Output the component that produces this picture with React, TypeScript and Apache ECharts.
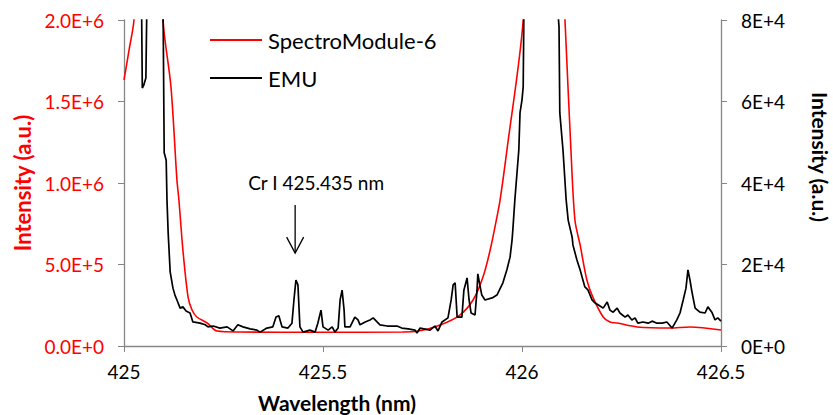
import React, { useEffect, useRef } from "react";
import * as echarts from "echarts";

// SpectroModule-6 (left axis)
const spectroWavelengths = [
  425.0, 425.013, 425.025, 425.045, 425.065, 425.085, 425.098, 425.118, 425.133, 425.138,
  425.148, 425.161, 425.171, 425.183, 425.209, 425.234, 425.29, 425.5, 425.7, 425.736,
  425.794, 425.844, 425.877, 425.902, 425.92, 425.937, 425.945, 425.962, 426.003, 426.03,
  426.055, 426.08, 426.108, 426.123, 426.133, 426.146, 426.163, 426.178, 426.204, 426.221,
  426.239, 426.289, 426.372, 426.422, 426.5,
];
const spectroValues = [
  1632000, 1820000, 2000000, 3000000, 4000000, 3000000, 2000000, 1590000, 1018000, 896000,
  589000, 300000, 221000, 178000, 141000, 92000, 86000, 84000, 86000, 90000,
  129000, 190000, 282000, 423000, 589000, 791000, 896000, 1200000, 2000000, 3500000,
  4500000, 3500000, 2000000, 1200000, 773000, 620000, 405000, 300000, 178000, 147000,
  141000, 117000, 110000, 117000, 98000,
];

// EMU (right axis)
const emuWavelengths = [
  425.0, 425.035, 425.044, 425.046, 425.05, 425.055, 425.058, 425.075, 425.098, 425.101,
  425.106, 425.108, 425.111, 425.116, 425.123, 425.128, 425.133, 425.141, 425.148, 425.156,
  425.166, 425.173, 425.191, 425.204, 425.211, 425.224, 425.241, 425.259, 425.274, 425.286,
  425.299, 425.317, 425.334, 425.342, 425.359, 425.374, 425.382, 425.389, 425.397, 425.412,
  425.422, 425.427, 425.432, 425.437, 425.442, 425.45, 425.467, 425.48, 425.487, 425.495,
  425.5, 425.513, 425.523, 425.53, 425.538, 425.543, 425.548, 425.553, 425.555, 425.568,
  425.58, 425.588, 425.593, 425.606, 425.618, 425.626, 425.631, 425.643, 425.661, 425.686,
  425.698, 425.714, 425.731, 425.736, 425.744, 425.769, 425.781, 425.789, 425.799, 425.814,
  425.822, 425.827, 425.832, 425.837, 425.849, 425.854, 425.862, 425.867, 425.872, 425.882,
  425.887, 425.889, 425.894, 425.899, 425.907, 425.925, 425.937, 425.952, 425.962, 425.97,
  425.975, 425.977, 425.982, 425.992, 425.995, 426.0, 426.003, 426.005, 426.03, 426.088,
  426.093, 426.095, 426.103, 426.111, 426.116, 426.126, 426.128, 426.138, 426.146, 426.153,
  426.158, 426.166, 426.176, 426.183, 426.196, 426.204, 426.214, 426.221, 426.229, 426.239,
  426.246, 426.259, 426.266, 426.276, 426.284, 426.291, 426.304, 426.317, 426.327, 426.339,
  426.352, 426.364, 426.377, 426.389, 426.397, 426.405, 426.412, 426.417, 426.422, 426.427,
  426.435, 426.447, 426.46, 426.467, 426.477, 426.485, 426.492, 426.5,
];
const emuValues = [
  120000, 110000, 85000, 63300, 64100, 65800, 88000, 130000, 85000, 47400,
  45600, 35800, 27700, 18200, 14200, 12500, 11300, 9300, 9600, 8600,
  8100, 5900, 5600, 5200, 4700, 4900, 4400, 4700, 3700, 5200,
  4700, 4200, 3900, 3400, 4400, 4700, 7100, 7400, 4700, 4400,
  5600, 11300, 16200, 15000, 4700, 3400, 3900, 3400, 5600, 8800,
  4700, 3900, 4700, 3400, 4400, 11300, 13700, 8800, 4700, 4700,
  7100, 6400, 5200, 5900, 6400, 6900, 6400, 5200, 4900, 4900,
  4400, 4200, 3900, 3200, 4400, 3900, 4900, 3700, 5900, 6900,
  11300, 15000, 15500, 7100, 7100, 13700, 16700, 11300, 8100, 7600,
  13700, 17700, 15000, 12500, 11300, 11800, 12500, 15500, 18700, 21800,
  26000, 28500, 35800, 48100, 57200, 60400, 63600, 85000, 160000, 85000,
  78300, 57200, 48100, 35800, 30900, 26700, 24800, 21100, 18700, 16200,
  14500, 13700, 11300, 10600, 9800, 9300, 10800, 8800, 8300, 9300,
  8100, 7100, 7600, 6400, 6900, 5600, 5900, 5600, 6100, 5600,
  5600, 5900, 4400, 6400, 8100, 11300, 14200, 18700, 16200, 13300,
  9300, 8300, 8100, 9600, 8300, 6400, 6900, 6100,
];

const xTicks = [425, 425.5, 426, 426.5];
const leftTickLabels = ["0.0E+0", "5.0E+5", "1.0E+6", "1.5E+6", "2.0E+6"];
const rightTickLabels = ["0E+0", "2E+4", "4E+4", "6E+4", "8E+4"];

const annotationWavelength = 425.43;
const annotationText = "Cr I 425.435 nm";

const FONT = "Lato, 'Open Sans', sans-serif";
const AXIS_GRAY = "#868686";
const TICK_SIZE = 19;
const TITLE_SIZE = 22;

export default function App() {
  const ref = useRef<HTMLDivElement>(null);
  useEffect(() => {
    if (!ref.current) return;
    const chart = echarts.init(ref.current, undefined, { renderer: "svg" });
    const option: any = {
      animation: false,
      textStyle: { fontFamily: FONT },
      grid: { left: 124, right: 112, top: 20, bottom: 69, containLabel: false },
      legend: {
        orient: "vertical",
        left: 210,
        top: 29,
        padding: 0,
        icon: "rect",
        itemWidth: 52,
        itemHeight: 2,
        itemGap: 16,
        textStyle: { fontFamily: FONT, fontSize: 22, color: "#000", lineHeight: 22, padding: [0, 0, 0, 1] },
        data: ["SpectroModule-6", "EMU"],
      },
      xAxis: {
        type: "value",
        min: xTicks[0],
        max: xTicks[xTicks.length - 1],
        interval: 0.5,
        axisLine: { lineStyle: { color: AXIS_GRAY, width: 1.3 } },
        axisTick: { show: true, inside: false, length: 6, lineStyle: { color: AXIS_GRAY } },
        splitLine: { show: false },
        axisLabel: { color: "#000", fontSize: TICK_SIZE, fontFamily: FONT, margin: 16 },
      },
      yAxis: [
        {
          type: "value",
          min: 0,
          max: 2000000,
          interval: 500000,
          position: "left",
          axisLine: { show: true, lineStyle: { color: AXIS_GRAY, width: 1.3 } },
          axisTick: { show: true, inside: false, length: 6, lineStyle: { color: AXIS_GRAY } },
          splitLine: { show: false },
          axisLabel: {
            color: "#ff0000",
            fontSize: TICK_SIZE,
            fontFamily: FONT,
            margin: 20,
            formatter: (v: number) => leftTickLabels[Math.round(v / 500000)] ?? "",
          },
        },
        {
          type: "value",
          min: 0,
          max: 80000,
          interval: 20000,
          position: "right",
          axisLine: { show: true, lineStyle: { color: AXIS_GRAY, width: 1.3 } },
          axisTick: { show: true, inside: false, length: 6, lineStyle: { color: AXIS_GRAY } },
          splitLine: { show: false },
          axisLabel: {
            color: "#000",
            fontSize: TICK_SIZE,
            fontFamily: FONT,
            margin: 20,
            formatter: (v: number) => rightTickLabels[Math.round(v / 20000)] ?? "",
          },
        },
      ],
      series: [
        {
          name: "SpectroModule-6",
          type: "line",
          yAxisIndex: 0,
          symbol: "none",
          smooth: 0.3,
          clip: true,
          lineStyle: { color: "#ff0000", width: 1.6 },
          itemStyle: { color: "#ff0000" },
          data: spectroWavelengths.map((w, i) => [w, spectroValues[i]]),
        },
        {
          name: "EMU",
          type: "line",
          yAxisIndex: 1,
          symbol: "none",
          clip: true,
          lineStyle: { color: "#000000", width: 1.7 },
          itemStyle: { color: "#000000" },
          data: emuWavelengths.map((w, i) => [w, emuValues[i]]),
        },
      ],
    };
    chart.setOption(option);

    const ax = chart.convertToPixel({ xAxisIndex: 0 }, annotationWavelength) as number;
    const yTop = chart.convertToPixel({ yAxisIndex: 1 }, 34600) as number;
    const yBot = chart.convertToPixel({ yAxisIndex: 1 }, 22800) as number;
    const yText = chart.convertToPixel({ yAxisIndex: 1 }, 40200) as number;

    chart.setOption({
      graphic: [
        {
          type: "text",
          x: ax + 21,
          y: yText,
          style: {
            text: annotationText,
            fill: "#000",
            font: `19px ${FONT}`,
            align: "center",
            verticalAlign: "middle",
          },
        },
        {
          type: "line",
          shape: { x1: ax, y1: yTop, x2: ax, y2: yBot },
          style: { stroke: "#000", lineWidth: 1.3 },
        },
        {
          type: "polyline",
          shape: { points: [[ax - 8.5, yBot - 16], [ax, yBot], [ax + 8.5, yBot - 16]] },
          style: { stroke: "#000", lineWidth: 1.3, fill: "none" },
        },
        {
          type: "text",
          x: 22,
          y: 183,
          rotation: Math.PI / 2,
          style: {
            text: "Intensity (a.u.)",
            fill: "#ff0000",
            font: `bold ${TITLE_SIZE}px ${FONT}`,
            align: "center",
            verticalAlign: "middle",
          },
        },
        {
          type: "text",
          x: 820.5,
          y: 157,
          rotation: -Math.PI / 2,
          style: {
            text: "Intensity (a.u.)",
            fill: "#000",
            font: `bold ${TITLE_SIZE - 1}px ${FONT}`,
            align: "center",
            verticalAlign: "middle",
          },
        },
        {
          type: "text",
          x: 337,
          y: 402,
          style: {
            text: "Wavelength (nm)",
            fill: "#000",
            font: `bold ${TITLE_SIZE - 1}px ${FONT}`,
            align: "center",
            verticalAlign: "middle",
          },
        },
      ],
    });

    return () => chart.dispose();
  }, []);
  return <div ref={ref} style={{ width: 833, height: 415, position: "absolute", left: 0, top: 0 }} />;
}
